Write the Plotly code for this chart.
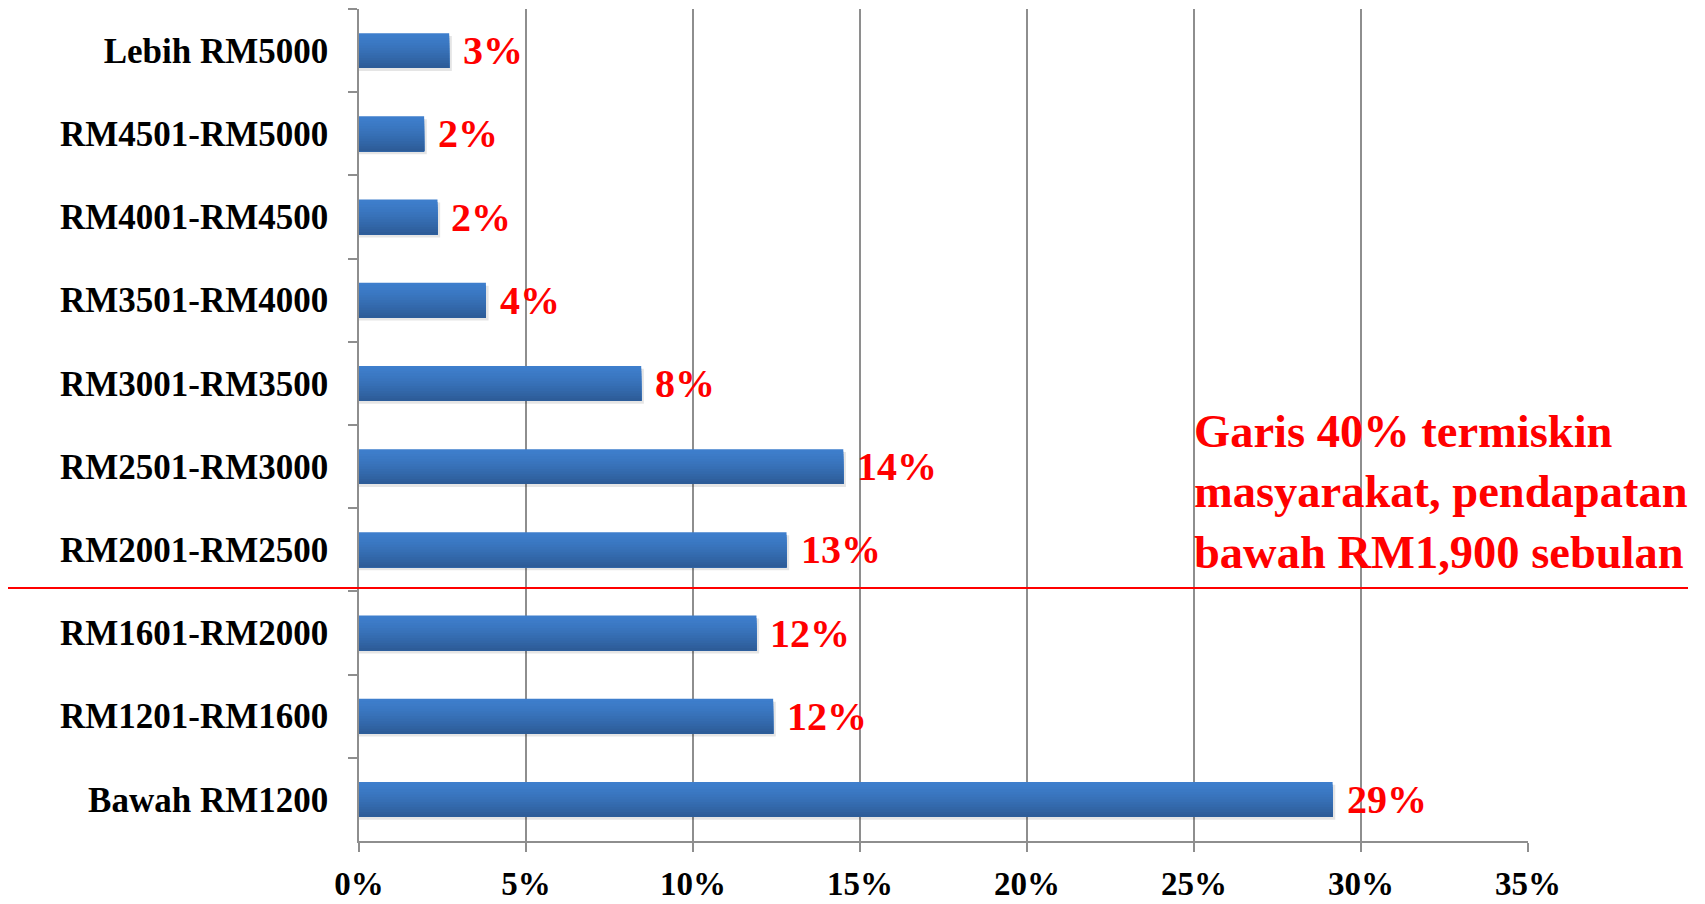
import plotly.graph_objects as go

# Categories listed top-to-bottom as shown in the chart
categories = [
    "Lebih RM5000",
    "RM4501-RM5000",
    "RM4001-RM4500",
    "RM3501-RM4000",
    "RM3001-RM3500",
    "RM2501-RM3000",
    "RM2001-RM2500",
    "RM1601-RM2000",
    "RM1201-RM1600",
    "Bawah RM1200",
]
values = [2.7, 1.95, 2.35, 3.8, 8.45, 14.5, 12.8, 11.9, 12.4, 29.15]
labels = [f"{v:.0f}%" for v in values]

x_ticks = [0, 5, 10, 15, 20, 25, 30, 35]
x_ticktext = [f"{t}%" for t in x_ticks]

note_text = "Garis 40% termiskin<br>masyarakat, pendapatan<br>bawah RM1,900 sebulan"
poverty_line_y = 6.46

W, H = 1705, 904
ML, MR, MT, MB = 351, 185, 1, 71
plot_w = W - ML - MR

serif = "Liberation Serif"
grid_col = "#8e8e8e"

BAR_W = 0.42
fig = go.Figure()

# soft shadow
fig.add_trace(go.Bar(
    y=categories, x=[v + 0.08 for v in values], orientation="h",
    width=BAR_W, offset=-BAR_W / 2 + 0.035,
    marker=dict(color="rgba(0,0,0,0.10)", line=dict(width=0)),
    hoverinfo="skip",
))

# vertical gradient (light top -> dark bottom) built from nested layers (no seams)
top_rgb = (62, 126, 204)
bot_rgb = (45, 92, 152)
N = 14
step = BAR_W / N
for i in range(N):
    t = i / (N - 1)
    t2 = t ** 1.3
    rgb = tuple(round(a + (b - a) * t2) for a, b in zip(top_rgb, bot_rgb))
    fig.add_trace(go.Bar(
        y=categories, x=values, orientation="h",
        width=BAR_W - i * step, offset=-BAR_W / 2 + i * step,
        marker=dict(color="rgb(%d,%d,%d)" % rgb, line=dict(width=0)),
        hoverinfo="skip",
    ))

for c, v, t in zip(categories, values, labels):
    fig.add_annotation(
        x=v, y=c, text=t, showarrow=False, xanchor="left", yanchor="middle",
        xshift=12, font=dict(family=serif, size=40, color="#ff0000", weight="bold"),
    )

fig.add_annotation(
    x=25, y=5.30, text=note_text, showarrow=False, xanchor="left", yanchor="middle",
    align="left", xshift=-2,
    font=dict(family=serif, size=46.5, color="#ff0000", weight="bold"),
)

fig.add_shape(
    type="line", xref="paper", yref="y",
    x0=(-5 - ML) / plot_w, x1=(1680 - ML) / plot_w,
    y0=poverty_line_y, y1=poverty_line_y,
    line=dict(color="#ff0000", width=2),
)

fig.update_layout(
    width=W, height=H,
    margin=dict(l=ML, r=MR, t=MT, b=MB, pad=0),
    paper_bgcolor="white", plot_bgcolor="white",
    showlegend=False,
    barmode="overlay",
)
fig.update_xaxes(
    range=[0, 35], tickvals=x_ticks, ticktext=x_ticktext,
    showgrid=True, gridcolor=grid_col, gridwidth=1.5,
    showline=True, linecolor=grid_col, linewidth=1.5,
    ticks="outside", ticklen=9, tickcolor=grid_col, tickwidth=1.5,
    zeroline=False,
    tickfont=dict(family=serif, size=33, color="black", weight="bold"),
    ticklabelstandoff=4,
)
fig.update_yaxes(
    categoryorder="array", categoryarray=categories,
    range=[9.5, -0.5],
    showline=True, linecolor=grid_col, linewidth=1.5,
    ticks="outside", ticklen=9, tickcolor=grid_col, tickwidth=1.5,
    tickson="boundaries", showgrid=False, zeroline=False,
    tickfont=dict(family=serif, size=35, color="black", weight="bold"),
    ticklabelstandoff=22,
)

fig.write_html("out.html")
